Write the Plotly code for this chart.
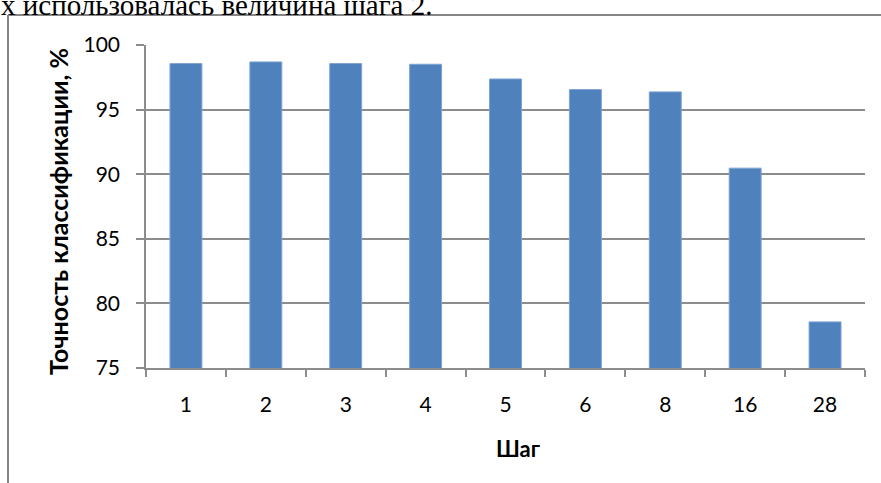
import plotly.graph_objects as go

# Classification accuracy by step size
steps = ["1", "2", "3", "4", "5", "6", "8", "16", "28"]
accuracy = [98.56, 98.69, 98.56, 98.51, 97.37, 96.55, 96.37, 90.47, 78.57]

y_ticks = [75, 80, 85, 90, 95, 100]

W, H = 881, 483
L, R, T, B = 146, 16, 45, 115
pw, ph = W - L - R, H - T - B


def px_x(x):
    return (x - L) / pw


def px_y(y):
    return (H - B - y) / ph


fig = go.Figure(
    go.Bar(
        x=steps,
        y=accuracy,
        marker=dict(color="#4F81BD", line=dict(color="#7EA3D2", width=1)),
        width=0.4,
    )
)

grid = "#8C8C8C"
font_family = "Lato, 'Liberation Sans', sans-serif"

fig.update_layout(
    width=W,
    height=H,
    margin=dict(l=L, r=R, t=T, b=B),
    paper_bgcolor="white",
    plot_bgcolor="white",
    showlegend=False,
    font=dict(family=font_family, color="black"),
    xaxis=dict(
        type="category",
        showline=True,
        linecolor=grid,
        linewidth=1.5,
        ticks="outside",
        tickson="boundaries",
        ticklen=7,
        tickwidth=1.5,
        tickcolor=grid,
        tickfont=dict(size=21),
        ticklabelstandoff=17,
        showgrid=False,
    ),
    yaxis=dict(
        range=[75, 100],
        tickvals=y_ticks,
        showline=True,
        linecolor=grid,
        linewidth=1.5,
        ticks="outside",
        ticklen=8,
        tickwidth=1.5,
        tickcolor=grid,
        tickfont=dict(size=21),
        ticklabelstandoff=12,
        showgrid=True,
        gridcolor=grid,
        gridwidth=1.5,
        zeroline=False,
    ),
    annotations=[
        dict(
            text="<b>Точность классификации, %</b>",
            xref="paper", yref="paper",
            x=px_x(58), y=px_y(212),
            xanchor="center", yanchor="middle",
            textangle=-90, showarrow=False,
            font=dict(size=25, family=font_family),
        ),
        dict(
            text="<b>Шаг</b>",
            xref="paper", yref="paper",
            x=px_x(518), y=px_y(448),
            xanchor="center", yanchor="middle",
            showarrow=False,
            font=dict(size=22, family=font_family),
        ),
        dict(
            text="х использовалась величина шага 2.",
            xref="paper", yref="paper",
            x=px_x(-1), y=px_y(5),
            xanchor="left", yanchor="middle",
            showarrow=False,
            font=dict(size=29, family="'Liberation Serif', 'Times New Roman', serif"),
        ),
    ],
    shapes=[
        dict(type="line", xref="paper", yref="paper",
             x0=px_x(8), x1=px_x(881), y0=px_y(15), y1=px_y(15),
             line=dict(color="#868686", width=2)),
        dict(type="line", xref="paper", yref="paper",
             x0=px_x(8), x1=px_x(8), y0=px_y(15), y1=px_y(483),
             line=dict(color="#868686", width=2)),
    ],
)

fig.write_html("out.html")
